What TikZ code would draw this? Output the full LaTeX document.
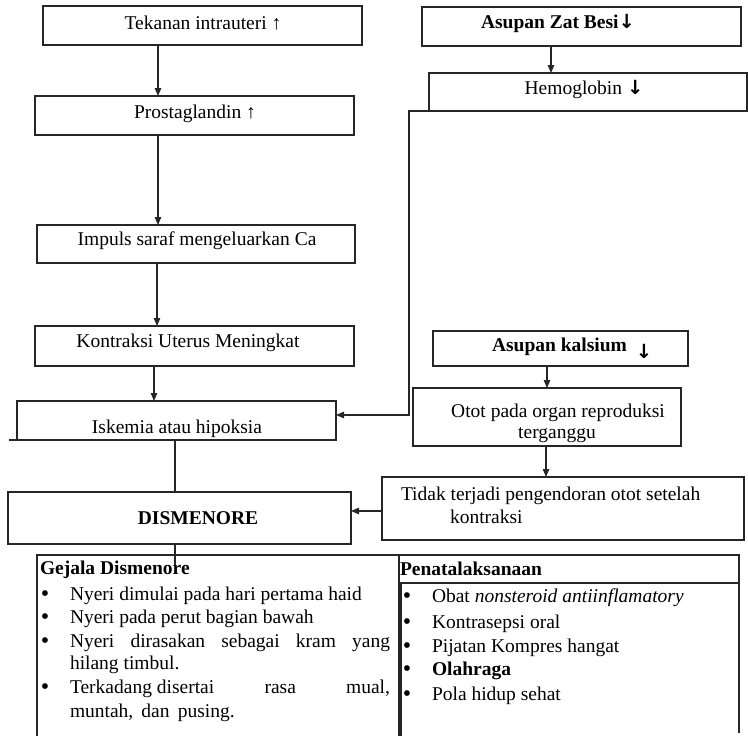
\documentclass[tikz,border=0pt]{standalone}
\usepackage{fontspec}
\setmainfont{Liberation Serif}
\newfontfamily\arrfont{DejaVu Sans}
\usetikzlibrary{arrows.meta}
\newcommand{\dnarr}{{\arrfont\bfseries ↓}}
\begin{document}
\begin{tikzpicture}[x=1pt,y=-1pt,
  ln/.style={draw=black!85, line width=1.2pt},
  box/.style={ln, rectangle, inner sep=0pt, outer sep=0pt},
  arr/.style={ln, -{Triangle[length=8pt,width=6.5pt]}},
  txt/.style={inner sep=0pt, outer sep=0pt, anchor=base, font=\fontsize{19.5}{21}\selectfont},
  txtl/.style={txt, anchor=base west},
  bul/.style={txt, anchor=base, text height=9pt, text depth=0pt, font=\fontsize{24}{21}\selectfont}]
\useasboundingbox (0,0) rectangle (748,736);
% ---- boxes ----
\node[box, minimum width=319pt, minimum height=39pt] (tek) at (202.5,25.5) {};
\node[box, minimum width=319pt, minimum height=39pt] (pro) at (194.5,115.5) {};
\node[box, minimum width=318pt, minimum height=38pt] (imp) at (196,244) {};
\node[box, minimum width=319pt, minimum height=40pt] (kon) at (194.5,346) {};
\node[box, minimum width=319pt, minimum height=39pt] (isk) at (176.5,420.5) {};
\node[box, minimum width=343pt, minimum height=52pt] (dis) at (179.5,518) {};
\node[box, minimum width=319pt, minimum height=39pt] (bes) at (581.5,26.5) {};
\node[box, minimum width=318pt, minimum height=38pt] (hem) at (588,92) {};
\node[box, minimum width=255pt, minimum height=35pt] (kal) at (560.5,348.5) {};
\node[box, minimum width=268pt, minimum height=58pt] (oto) at (547,417) {};
\node[box, minimum width=362pt, minimum height=63pt] (tid) at (563,508.5) {};
% ---- box texts ----
\node[txt] (tTek) at (203,30) {Tekanan intrauteri ↑};
\node[txt] (tPro) at (195,118) {Prostaglandin ↑};
\node[txt] (tImp) at (197,245) {Impuls saraf mengeluarkan Ca};
\node[txt] (tKon) at (188,347) {Kontraksi Uterus Meningkat};
\node[txt] (tIsk) at (177,433) {Iskemia atau hipoksia};
\node[txt] (tDis) at (198,524) {\bfseries DISMENORE};
\node[txt] (tBes) at (558,28) {\bfseries Asupan Zat Besi\dnarr};
\node[txt] (tHem) at (584,94) {Hemoglobin \dnarr};
\node[txtl] (tKal) at (492,351) {\bfseries Asupan kalsium};
\node[txt] (tKalA) at (644,358) {\dnarr};
\node[txt] (tOto1) at (558,417) {Otot pada organ reproduksi};
\node[txt] (tOto2) at (557,438) {terganggu};
\node[txtl] (tTid1) at (401,500) {Tidak terjadi pengendoran otot setelah};
\node[txtl] (tTid2) at (450,523) {kontraksi};
% ---- helper coordinates ----
\coordinate (c158) at (158,0);
\coordinate (c157) at (157,0);
\coordinate (c154) at (154,0);
\coordinate (c175) at (175,0);
\coordinate (c551) at (551,0);
\coordinate (c547) at (547,0);
\coordinate (c546) at (546,0);
\coordinate (hv) at (409,111);
\coordinate (hd) at (409,415);
\coordinate (tarr) at (0,511);
\coordinate (dend) at (175,565);
% ---- connectors ----
\draw[arr] (tek.south -| c158) -- (pro.north -| c158);
\draw[arr] (pro.south -| c158) -- (imp.north -| c158);
\draw[arr] (imp.south -| c157) -- (kon.north -| c157);
\draw[arr] (kon.south -| c154) -- (isk.north -| c154);
\draw[ln] (isk.south -| c175) -- (dis.north -| c175);
\draw[ln] (dis.south -| c175) -- (dend);
\draw[arr] (bes.south -| c551) -- (hem.north -| c551);
\draw[arr] (hem.south west) -- (hv) -- (hd) -- (isk.east |- hd);
\draw[arr] (kal.south -| c547) -- (oto.north -| c547);
\draw[arr] (oto.south -| c546) -- (tid.north -| c546);
\draw[arr] (tid.west |- tarr) -- (dis.east |- tarr);
\draw[ln] (isk.south west) -- ++(-8,0);
% ---- tables ----
\draw[ln] (37,740) -- (37,555) -- (739,555) -- (739,733);
\draw[ln] (399,555) -- (399,740);
\draw[ln] (401,583) -- (401,740);
\draw[ln] (399,583) -- (739,583);
% left table
\node[txtl] (gT) at (40,574) {\bfseries Gejala Dismenore};
\node[bul] (gb1) at (45,601) {•};
\node[txtl] (g1) at (70,600) {Nyeri dimulai pada hari pertama haid};
\node[bul] (gb2) at (45,624) {•};
\node[txtl] (g2) at (70,623) {Nyeri pada perut bagian bawah};
\node[bul] (gb3) at (45,648) {•};
\node[txtl] (g3) at (70,647) {\makebox[320pt][s]{Nyeri dirasakan sebagai kram yang}};
\node[txtl] (g3b) at (70,669) {hilang timbul.};
\node[bul] (gb4) at (45,694) {•};
\node[txtl] (g4) at (70,693) {\makebox[320pt][s]{Terkadang disertai\hspace{0pt plus 1fill} rasa\hspace{0pt plus 1fill} mual,}};
\node[txtl] (g4b) at (70,717) {muntah,\, dan\, pusing.};
% right table
\node[txtl] (pT) at (400,575) {\bfseries Penatalaksanaan};
\node[bul] (pb1) at (407,603) {•};
\node[txtl] (p1) at (432,602) {Obat \textit{nonsteroid antiinflamatory}};
\node[bul] (pb2) at (407,629) {•};
\node[txtl] (p2) at (432,628) {Kontrasepsi oral};
\node[bul] (pb3) at (407,653) {•};
\node[txtl] (p3) at (432,652) {Pijatan Kompres hangat};
\node[bul] (pb4) at (407,676) {•};
\node[txtl] (p4) at (432,675) {\bfseries Olahraga};
\node[bul] (pb5) at (407,701) {•};
\node[txtl] (p5) at (432,700) {Pola hidup sehat};
\end{tikzpicture}
\end{document}
